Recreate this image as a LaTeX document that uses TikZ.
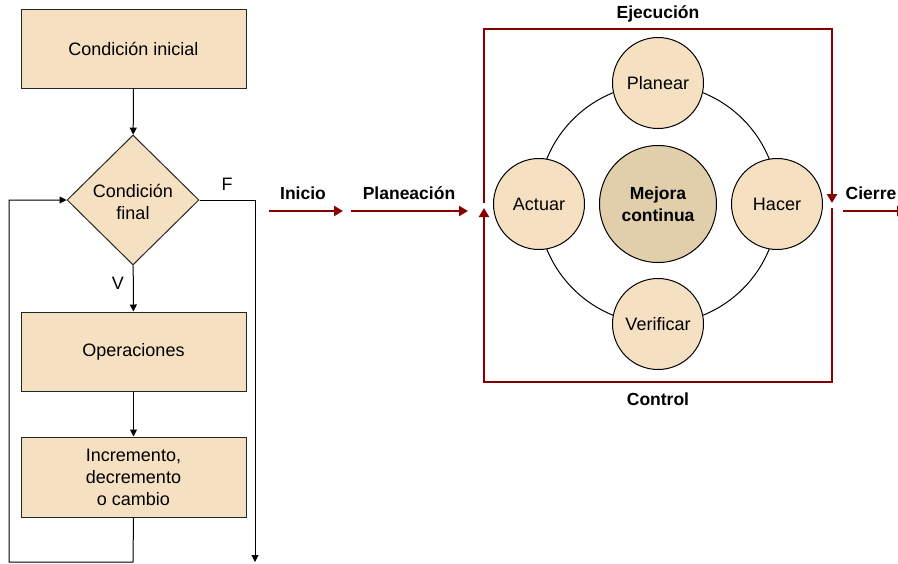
\documentclass[tikz,border=0pt]{standalone}
\usepackage{fontspec}
\setmainfont{Liberation Sans}
\usetikzlibrary{arrows.meta,shapes.geometric}

\definecolor{boxfill}{RGB}{245,224,194}
\definecolor{hubfill}{RGB}{225,207,172}
\definecolor{cyclered}{RGB}{135,0,0}

\tikzset{
  procbox/.style={draw=black!85, line width=1pt, fill=boxfill, minimum width=225pt,
    inner sep=0pt, align=center},
  decision/.style={diamond, draw=black!85, line width=1pt, fill=boxfill, inner sep=0pt,
    minimum width=132pt, minimum height=130pt, align=center},
  stage/.style={circle, draw=black, line width=1pt, fill=boxfill, minimum size=91pt, inner sep=0pt},
  hub/.style={circle, draw=black, line width=1pt, fill=hubfill, minimum size=117pt, inner sep=0pt,
    align=center, font=\fontsize{17.5}{22}\selectfont\bfseries},
  flow/.style={draw=black, line width=1pt, -{Triangle[length=7pt,width=7pt]}},
  plainline/.style={draw=black, line width=1pt},
  redflow/.style={draw=cyclered, line width=2.8pt, line join=miter, -{Triangle[length=9pt,width=10pt]}},
  caption/.style={font=\fontsize{17.5}{22}\selectfont\bfseries, inner sep=0pt},
}

\begin{document}
\begin{tikzpicture}[x=1pt, y=-1pt, font=\fontsize{18}{22}\selectfont]
  \clip (0,0) rectangle (898,563);
  \fill[white] (0,0) rectangle (898,563);

  % ---------- loop flowchart ----------
  \node[procbox, minimum height=79pt] (init) at (133.5,48.5) {Condición inicial};
  \node[decision] (cond) at (133,200) {};
  \node[align=center, inner sep=0pt] (condtxt) at (133,202) {Condición\\final};
  \node[procbox, minimum height=79pt] (ops) at (133.5,351.5) {Operaciones};
  \node[procbox, minimum height=80pt] (step) at (133.5,477) {Incremento,\\decremento\\o cambio};

  \draw[flow] (init) -- (cond);
  \draw[flow] (cond) -- (ops);
  \draw[flow] (ops) -- (step);

  % back edge to the condition
  \coordinate (loopA) at (133,562);
  \coordinate (loopB) at (9,562);
  \coordinate (loopC) at (9,200);
  \draw[flow] (step.south) -- (loopA) -- (loopB) -- (loopC) -- (cond.west);

  % exit when the condition is false
  \coordinate (exitA) at (255,200);
  \coordinate (exitB) at (255,562);
  \draw[flow] (cond.east) -- (exitA) -- (exitB);

  \node[inner sep=0pt] (lblF) at (227,184) {F};
  \node[inner sep=0pt] (lblV) at (118,283) {V};

  % ---------- improvement cycle ----------
  \node[caption] (tIni) at (303,193) {Inicio};
  \node[caption] (tPlan) at (409,193) {Planeación};
  \node[caption] (tCie) at (871,193) {Cierre};
  \node[caption] (tEje) at (658,14) {Ejecución};
  \node[caption] (tCon) at (658,399) {Control};

  \coordinate (iniA) at (269,211);
  \coordinate (iniB) at (343,211);
  \coordinate (plaA) at (351,211);
  \coordinate (plaB) at (468,211);
  \coordinate (cieA) at (843,211);
  \coordinate (cieB) at (906,211);
  \draw[redflow] (iniA) -- (iniB);
  \draw[redflow] (plaA) -- (plaB);
  \draw[redflow] (cieA) -- (cieB);

  % frame split into upper and lower halves
  \coordinate (fTL) at (484,29);
  \coordinate (fTR) at (832,29);
  \coordinate (fBL) at (484,382);
  \coordinate (fBR) at (832,382);
  \coordinate (gapL1) at (484,203);
  \coordinate (gapL2) at (484,208);
  \coordinate (gapR1) at (832,203);
  \coordinate (gapR2) at (832,208);
  \draw[redflow] (gapL1) -- (fTL) -- (fTR) -- (gapR1);
  \draw[redflow] (gapR2) -- (fBR) -- (fBL) -- (gapL2);

  % ring and stages
  \coordinate (ctr) at (658,204);
  \draw[plainline] (ctr) circle[radius=120pt];
  \node[hub] (hub) at (658,204) {Mejora\\continua};
  \node[stage] (plan) at (658,83) {Planear};
  \node[stage] (act) at (539,204) {Actuar};
  \node[stage] (do) at (777,204) {Hacer};
  \node[stage] (chk) at (658,324) {Verificar};
\end{tikzpicture}
\end{document}
